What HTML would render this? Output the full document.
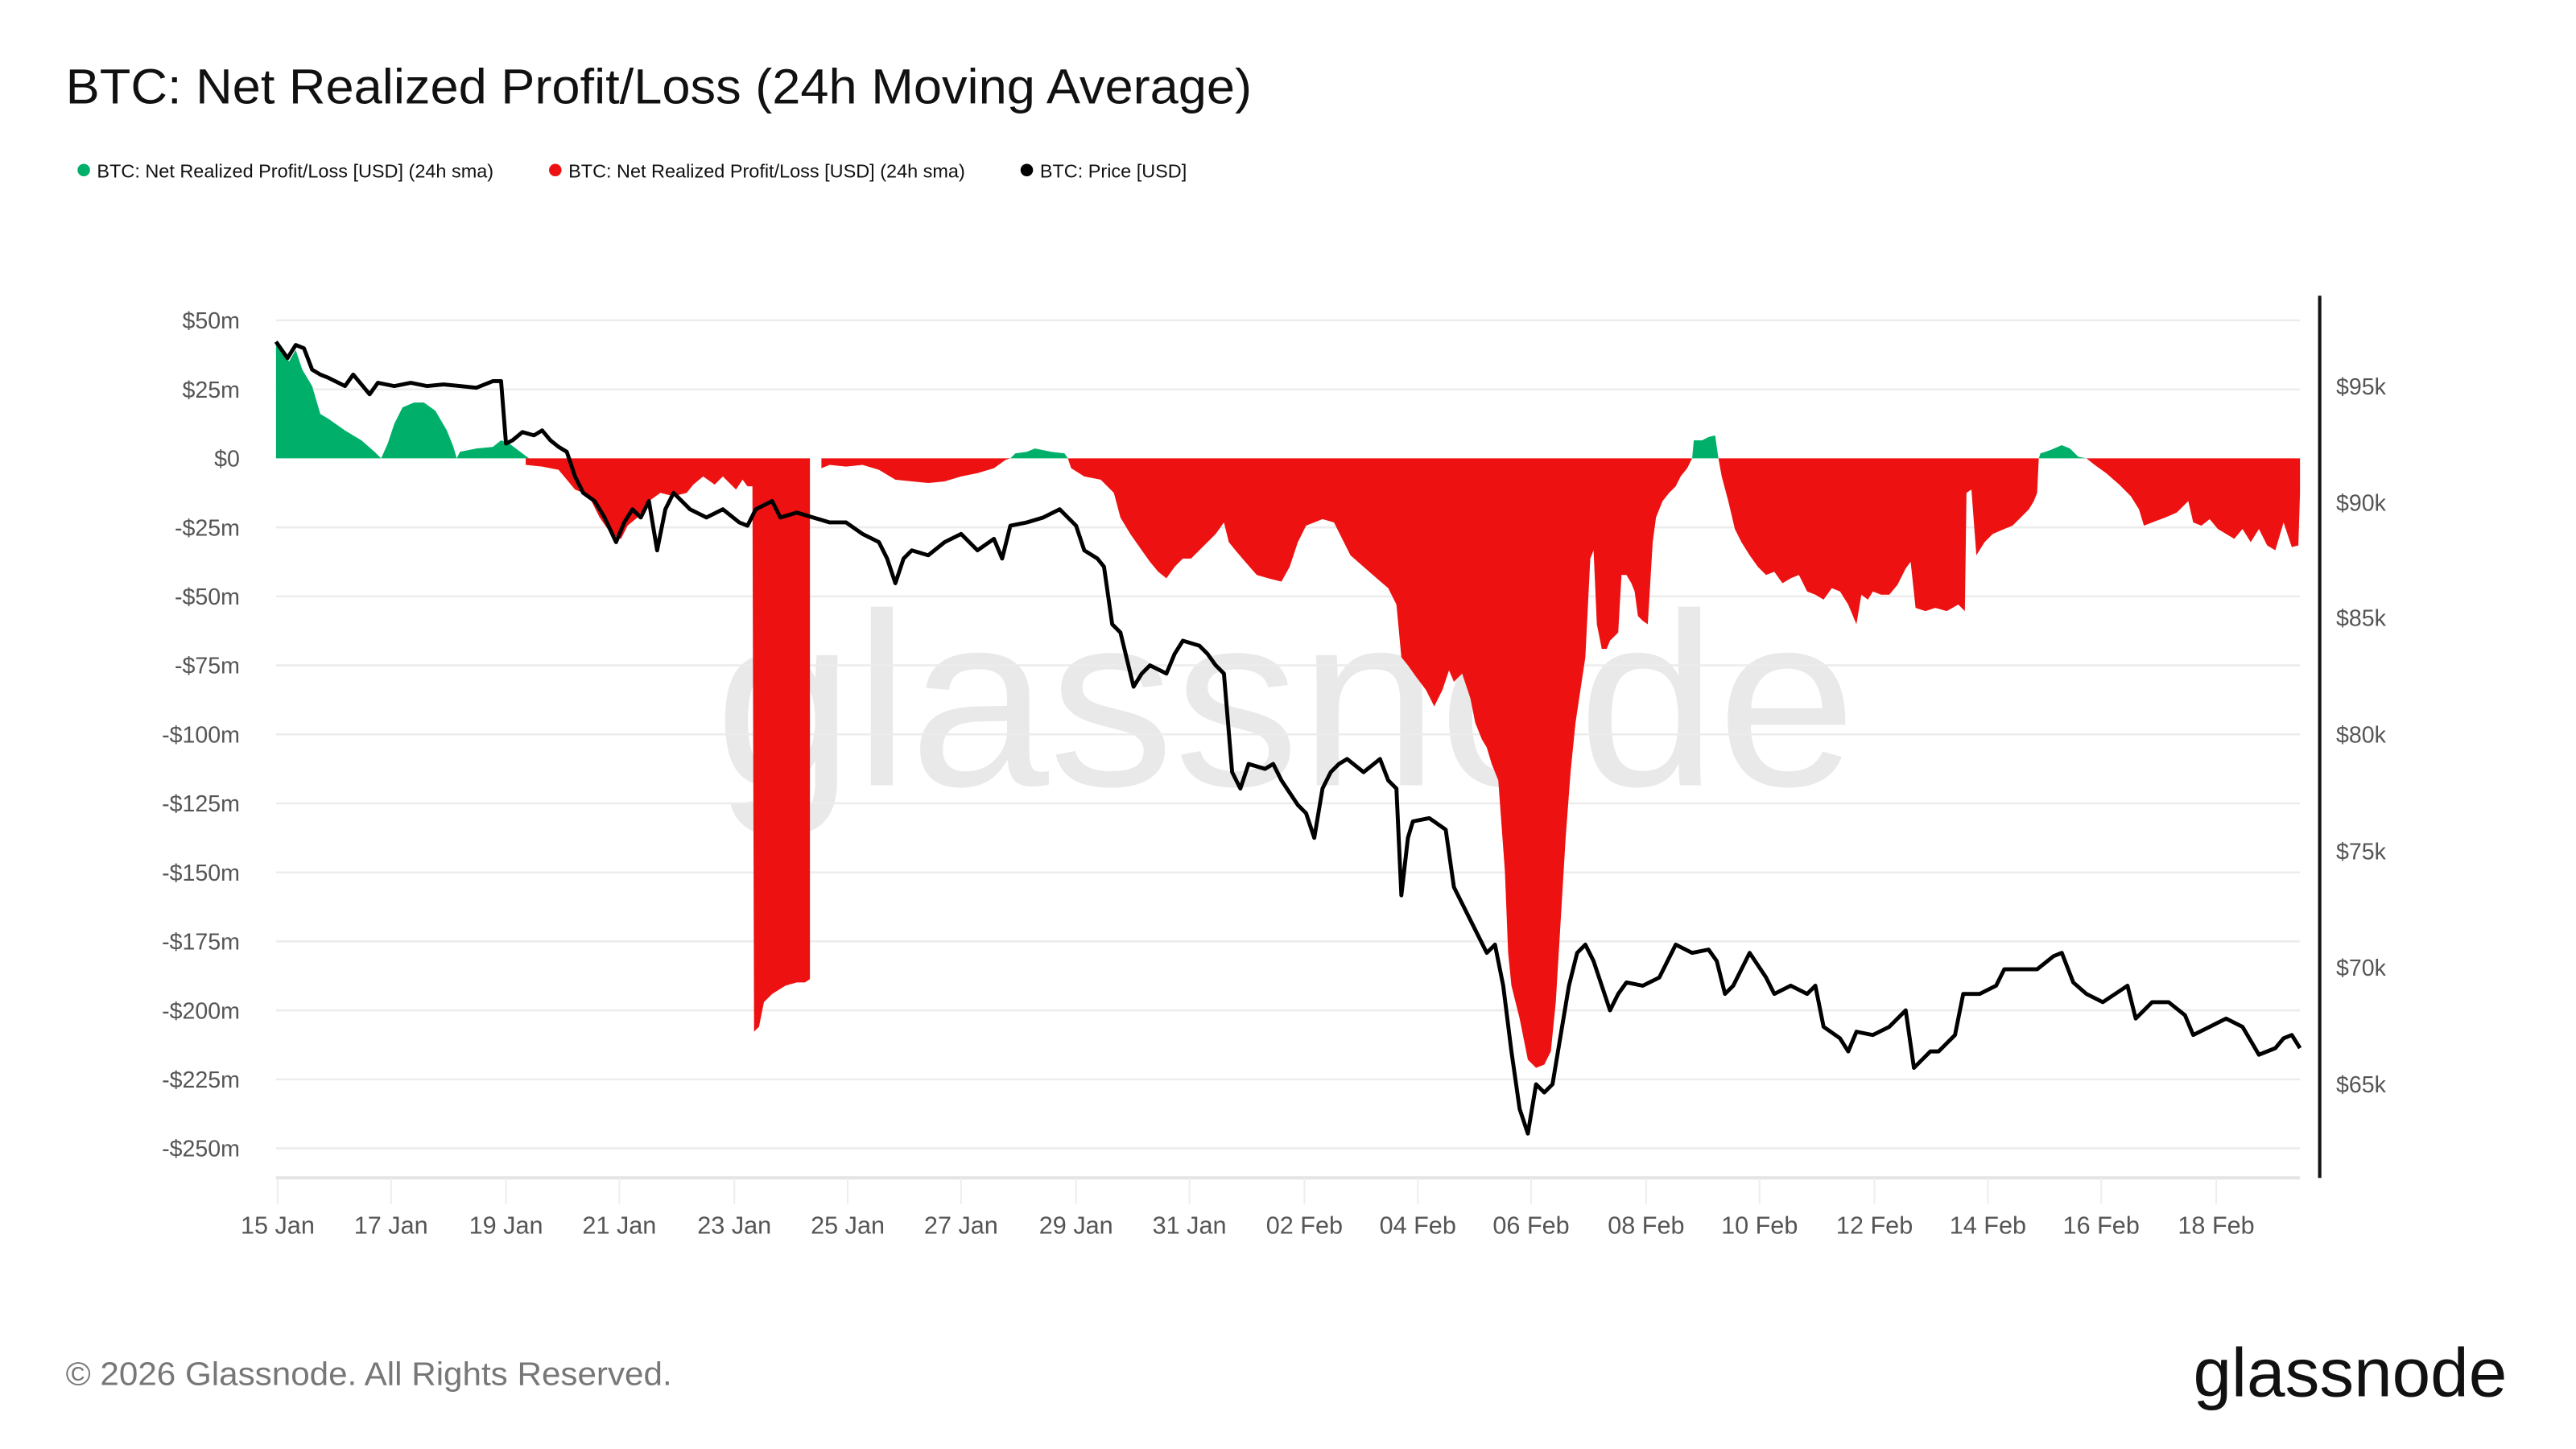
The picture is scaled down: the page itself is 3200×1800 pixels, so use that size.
<!DOCTYPE html>
<html><head><meta charset="utf-8"><style>html,body{margin:0;padding:0;background:#fff}svg{display:block}</style></head>
<body>
<svg width="3200" height="1800" viewBox="0 0 1568 882" xmlns="http://www.w3.org/2000/svg" font-family="Liberation Sans, sans-serif">
<rect width="1568" height="882" fill="#fff"/>
<text x="40" y="63" font-size="30" fill="#111" textLength="722" lengthAdjust="spacingAndGlyphs">BTC: Net Realized Profit/Loss (24h Moving Average)</text>
<g font-size="11.5" fill="#111">
<circle cx="51" cy="103.5" r="3.8" fill="#00b06a"/><text x="59" y="108">BTC: Net Realized Profit/Loss [USD] (24h sma)</text>
<circle cx="338" cy="103.5" r="3.8" fill="#ee1111"/><text x="346" y="108">BTC: Net Realized Profit/Loss [USD] (24h sma)</text>
<circle cx="625" cy="103.5" r="3.8" fill="#000"/><text x="633" y="108">BTC: Price [USD]</text>
</g>
<text x="435" y="478" font-size="150" fill="#e9e9e9" textLength="695" lengthAdjust="spacingAndGlyphs">glassnode</text>
<g stroke="#ececec" stroke-width="1.2">
<line x1="168" x2="1400" y1="195" y2="195"/><line x1="168" x2="1400" y1="237" y2="237"/>
<line x1="168" x2="1400" y1="321" y2="321"/><line x1="168" x2="1400" y1="363" y2="363"/><line x1="168" x2="1400" y1="405" y2="405"/>
<line x1="168" x2="1400" y1="447" y2="447"/><line x1="168" x2="1400" y1="489" y2="489"/><line x1="168" x2="1400" y1="531" y2="531"/>
<line x1="168" x2="1400" y1="573" y2="573"/><line x1="168" x2="1400" y1="615" y2="615"/><line x1="168" x2="1400" y1="657" y2="657"/>
<line x1="168" x2="1400" y1="699" y2="699"/><line x1="168" x2="1400" y1="717" y2="717" stroke="#e4e4e4" stroke-width="2"/>
</g>
<g stroke="#eeeeee" stroke-width="1">
<path d="M169 717V733M238 717V733M308 717V733M377 717V733M447 717V733M516 717V733M585 717V733M655 717V733M724 717V733M794 717V733M863 717V733M932 717V733M1002 717V733M1071 717V733M1141 717V733M1210 717V733M1279 717V733M1349 717V733"/>
</g>
<g font-size="14" fill="#555" text-anchor="end">
<text x="146" y="200">$50m</text><text x="146" y="242">$25m</text><text x="146" y="284">$0</text>
<text x="146" y="326">-$25m</text><text x="146" y="368">-$50m</text><text x="146" y="410">-$75m</text>
<text x="146" y="452">-$100m</text><text x="146" y="494">-$125m</text><text x="146" y="536">-$150m</text>
<text x="146" y="578">-$175m</text><text x="146" y="620">-$200m</text><text x="146" y="662">-$225m</text><text x="146" y="704">-$250m</text>
</g>
<g font-size="14" fill="#555">
<text x="1422" y="240">$95k</text><text x="1422" y="311">$90k</text><text x="1422" y="381">$85k</text>
<text x="1422" y="452">$80k</text><text x="1422" y="523">$75k</text><text x="1422" y="594">$70k</text><text x="1422" y="665">$65k</text>
</g>
<g font-size="15" fill="#555" text-anchor="middle">
<text x="169" y="751">15 Jan</text><text x="238" y="751">17 Jan</text><text x="308" y="751">19 Jan</text><text x="377" y="751">21 Jan</text>
<text x="447" y="751">23 Jan</text><text x="516" y="751">25 Jan</text><text x="585" y="751">27 Jan</text><text x="655" y="751">29 Jan</text>
<text x="724" y="751">31 Jan</text><text x="794" y="751">02 Feb</text><text x="863" y="751">04 Feb</text><text x="932" y="751">06 Feb</text>
<text x="1002" y="751">08 Feb</text><text x="1071" y="751">10 Feb</text><text x="1141" y="751">12 Feb</text><text x="1210" y="751">14 Feb</text>
<text x="1279" y="751">16 Feb</text><text x="1349" y="751">18 Feb</text>
</g>
<line x1="1412" y1="180" x2="1412" y2="717" stroke="#111" stroke-width="2"/>
<g fill="#00b06a">
<polygon points="168,279 168,210 172,215 176,220 180,213 184,225 190,235 195,252 200,255 210,262 220,268 228,275 232,279 236,270 240,258 245,248 252,245 258,245 265,250 272,262 276,272 278,279 280,275 290,273 300,272 305,268 310,270 318,276 322,279"/>
<polygon points="615,279 618,276 625,275 630,273 640,275 648,276 650,279"/>
<polygon points="1030,279 1031,268 1036,268 1040,266 1044,265 1046,279"/>
<polygon points="1241,279 1242,276 1248,274 1255,271 1260,273 1265,278 1270,279"/>
</g>
<polygon fill="#ee1111" points="320,279 320,283 330,284 340,286 345,292 350,298 355,300 360,305 365,315 372,325 378,328 382,320 388,315 395,305 402,300 410,302 418,300 422,295 428,290 435,295 440,290 448,298 452,292 455,296 458,296 459,628 462,625 465,610 470,605 478,600 485,598 490,598 493,596 493,279 500,279 500,285 505,283 515,284 525,283 535,286 545,292 555,293 565,294 575,293 585,290 595,288 605,285 612,280 615,279 650,279 652,285 660,290 670,292 678,300 682,315 688,325 695,335 700,342 705,348 710,352 715,345 720,340 725,340 730,335 735,330 740,325 745,318 748,330 752,335 758,342 765,350 772,352 780,354 785,345 790,330 795,320 805,316 812,318 818,330 822,338 830,345 838,352 845,358 850,368 853,400 857,405 862,412 868,420 873,430 878,420 882,408 885,415 890,410 895,425 898,440 902,450 905,455 908,465 912,475 916,530 918,580 920,600 925,620 930,645 935,650 940,648 944,640 947,610 950,560 953,510 956,470 959,440 962,420 965,400 968,340 970,335 972,380 975,395 978,395 980,390 985,385 987,350 990,350 993,355 995,360 997,375 1000,378 1003,380 1006,330 1008,315 1012,305 1016,300 1020,296 1023,290 1027,285 1030,279 1046,279 1048,290 1052,305 1056,322 1060,330 1065,338 1070,345 1075,350 1080,348 1085,355 1090,352 1095,350 1100,360 1105,362 1110,365 1115,358 1120,360 1125,368 1130,380 1133,362 1137,365 1140,360 1145,362 1150,362 1155,356 1160,346 1163,342 1166,370 1172,372 1178,370 1185,372 1192,368 1196,372 1197,300 1200,298 1203,338 1208,330 1213,325 1220,322 1225,320 1230,315 1235,310 1238,305 1240,300 1241,279 1270,279 1275,283 1282,288 1290,295 1297,302 1302,310 1305,320 1310,318 1318,315 1325,312 1332,305 1335,318 1340,320 1345,316 1350,322 1355,325 1360,328 1365,322 1370,330 1375,322 1380,332 1385,335 1390,318 1395,333 1399,332 1400,300 1400,279"/>
<polyline fill="none" stroke="#000" stroke-width="2.4" stroke-linejoin="round" points="168,208 175,218 180,210 185,212 190,225 195,228 200,230 210,235 215,228 225,240 230,233 240,235 250,233 260,235 270,234 280,235 290,236 300,232 305,232 308,270 312,268 318,263 325,265 330,262 335,268 340,272 345,275 350,290 355,300 362,305 368,315 375,330 380,318 385,310 390,315 395,305 400,335 405,310 410,300 420,310 430,315 440,310 450,318 455,320 460,310 470,305 475,315 485,312 495,315 505,318 515,318 525,325 535,330 540,340 545,355 550,340 555,335 565,338 575,330 585,325 595,335 605,328 610,340 615,320 625,318 635,315 645,310 655,320 660,335 668,340 672,345 677,380 682,385 690,418 695,410 700,405 710,410 715,398 720,390 730,393 735,398 740,405 745,410 750,470 755,480 760,465 770,468 775,465 780,475 790,490 795,495 800,510 805,480 810,470 815,465 820,462 830,470 840,462 845,475 850,480 853,545 857,510 860,500 870,498 880,505 885,540 890,550 895,560 900,570 905,580 910,575 915,600 920,640 925,675 930,690 935,660 940,665 945,660 950,630 955,600 960,580 965,575 970,585 975,600 980,615 985,605 990,598 1000,600 1010,595 1015,585 1020,575 1030,580 1040,578 1045,585 1050,605 1055,600 1065,580 1075,595 1080,605 1090,600 1100,605 1105,600 1110,625 1120,632 1125,640 1130,628 1140,630 1150,625 1160,615 1165,650 1170,645 1175,640 1180,640 1190,630 1195,605 1205,605 1215,600 1220,590 1230,590 1240,590 1250,582 1255,580 1262,598 1270,605 1280,610 1295,600 1300,620 1310,610 1320,610 1330,618 1335,630 1345,625 1355,620 1365,625 1375,642 1385,638 1390,632 1395,630 1400,638"/>
<text x="40" y="843" font-size="20" fill="#777" textLength="369" lengthAdjust="spacingAndGlyphs">© 2026 Glassnode. All Rights Reserved.</text>
<text x="1335" y="850" font-size="42" fill="#111" textLength="191" lengthAdjust="spacingAndGlyphs">glassnode</text>
</svg>
</body></html>
